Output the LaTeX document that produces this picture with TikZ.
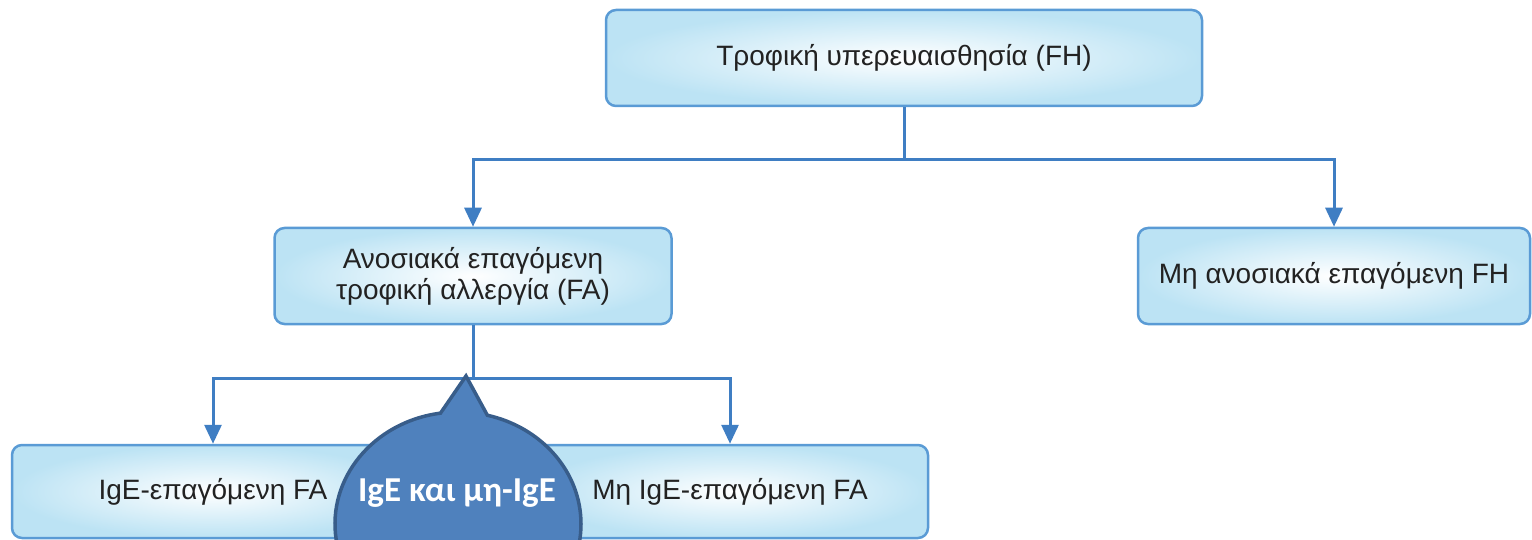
\documentclass[tikz,border=0pt]{standalone}
\usepackage{fontspec}
\setmainfont{Liberation Sans}
\newfontfamily\callfont{Carlito}
\usetikzlibrary{arrows.meta,shapes.callouts}
\definecolor{connc}{HTML}{3F7EC3}
\definecolor{boxborder}{HTML}{5A9BD5}
\definecolor{boxouter}{HTML}{BCE3F4}
\definecolor{callfill}{HTML}{4F81BD}
\definecolor{callborder}{HTML}{385D8A}
\definecolor{txt}{HTML}{222222}
\tikzset{
  fbox/.style={draw=boxborder, line width=2.5pt, rounded corners=10pt,
    inner color=white, outer color=boxouter, text=txt, align=center,
    font=\fontsize{28}{31}\selectfont},
  conn/.style={draw=connc, line width=3pt},
  arr/.style={conn, -{Triangle[length=19pt,width=17pt]}},
}
\begin{document}
\begin{tikzpicture}[x=1pt,y=-1pt]
\useasboundingbox (0,0) rectangle (1532,540);
\clip (0,0) rectangle (1532,540);
\node[fbox, minimum width=596pt, minimum height=96pt] (top) at (904,58) {Τροφική υπερευαισθησία (FH)};
\node[fbox, minimum width=397pt, minimum height=96pt] (left) at (473,276) {Ανοσιακά επαγόμενη\\τροφική αλλεργία (FA)};
\node[fbox, minimum width=392pt, minimum height=96pt] (right) at (1334,276) {Μη ανοσιακά επαγόμενη FH};
\node[fbox, minimum width=402pt, minimum height=93pt] (bl) at (213,491.5) {IgE-επαγόμενη FA};
\node[fbox, minimum width=396pt, minimum height=93pt] (br) at (730,491.5) {Μη IgE-επαγόμενη FA};
\coordinate (j1) at (904,160);
\coordinate (j2) at (473,378);
\draw[conn] (top.south) -- (j1);
\draw[arr] (j1) -| (left.north);
\draw[arr] (j1) -| (right.north);
\draw[conn] (left.south) -- (j2);
\draw[arr] (j2) -| (bl.north);
\draw[arr] (j2) -| (br.north);
\coordinate (tip) at (466,376);
\node[ellipse callout, draw=callborder, fill=callfill, line width=3.5pt,
  minimum width=246pt, minimum height=224pt, inner sep=0pt,
  callout absolute pointer={(tip)}, callout pointer arc=22] (callout) at (458,524) {};
\node[font=\callfont\bfseries\fontsize{35}{40}\selectfont, text=white] (calltext) at (457,493) {IgE και μη-IgE};
\end{tikzpicture}
\end{document}
